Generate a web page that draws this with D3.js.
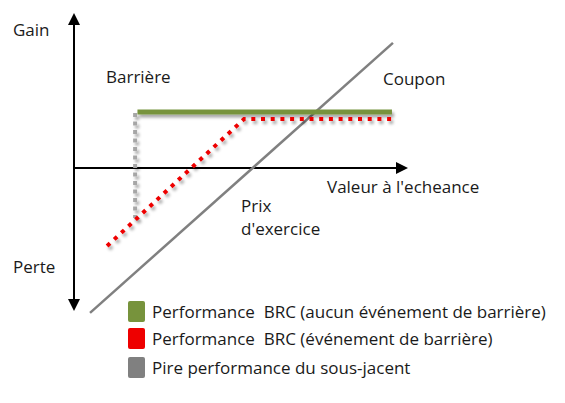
<!DOCTYPE html>
<html><head><meta charset="utf-8">
<script src="https://cdn.jsdelivr.net/npm/d3@7"></script>
<style>body{margin:0;background:#fff}svg{display:block}text{font-family:"Open Sans",sans-serif;fill:#1a1a1a}</style>
</head><body>
<script>
// Conceptual units: x = underlying value at maturity, y = gain/loss
const axisX = [0, 100];           // horizontal axis extent
const axisY = [-47.7, 51.7];      // vertical axis extent
const noEventX = [19, 95.2];  const noEventY = [18.7, 18.7];
const eventX = [9.9, 50.9, 95.2]; const eventY = [-26, 16.3, 16.3];
const barrierX = [18.3, 18.3];    const barrierY = [18.3, -16.7];
const underX = [4.8, 95.5];       const underY = [-48.3, 41.7];
const legendLabels = ["Performance  BRC (aucun événement de barrière)", "Performance  BRC (événement de barrière)", "Pire performance du sous-jacent"];
const legendColors = ["#77933C", "#EE0000", "#808080"];

const W = 565, H = 403;
const x = d3.scaleLinear().domain([0, 100]).range([74, 408]);
const y = d3.scaleLinear().domain([-50, 50]).range([318, 18]);

const svg = d3.select("body").append("svg").attr("width", W).attr("height", H);
const defs = svg.append("defs");
const f = defs.append("filter").attr("id", "sh").attr("filterUnits", "userSpaceOnUse")
  .attr("x", 0).attr("y", 0).attr("width", W).attr("height", H);
f.append("feDropShadow").attr("dx", 2).attr("dy", 3).attr("stdDeviation", 1.8).attr("flood-color", "#000").attr("flood-opacity", 0.35);

const line = d3.line().x(d => x(d[0])).y(d => y(d[1]));
const zip = (a, b) => a.map((v, i) => [v, b[i]]);

// axes
svg.append("line").attr("x1", x(axisX[0])).attr("x2", x(axisX[1]) - 10).attr("y1", y(0)).attr("y2", y(0)).attr("stroke", "#000").attr("stroke-width", 2);
svg.append("path").attr("d", `M${x(axisX[1])},${y(0)} L${x(axisX[1]) - 12},${y(0) - 6} L${x(axisX[1]) - 12},${y(0) + 6}Z`).attr("fill", "#000");
svg.append("line").attr("x1", x(0)).attr("x2", x(0)).attr("y1", y(axisY[0]) - 10).attr("y2", y(axisY[1]) + 10).attr("stroke", "#000").attr("stroke-width", 2);
svg.append("path").attr("d", `M${x(0)},${y(axisY[1])} L${x(0) - 6},${y(axisY[1]) + 12} L${x(0) + 6},${y(axisY[1]) + 12}Z`).attr("fill", "#000");
svg.append("path").attr("d", `M${x(0)},${y(axisY[0])} L${x(0) - 6},${y(axisY[0]) - 12} L${x(0) + 6},${y(axisY[0]) - 12}Z`).attr("fill", "#000");

// underlying
svg.append("path").attr("d", line(zip(underX, underY))).attr("fill", "none").attr("stroke", "#808080").attr("stroke-width", 2.5);
// barrier vertical
svg.append("path").attr("d", line(zip(barrierX, barrierY))).attr("fill", "none").attr("stroke", "#A6A6A6").attr("stroke-width", 4).attr("stroke-dasharray", "4,4.5").attr("filter", "url(#sh)");
// green
svg.append("path").attr("d", line(zip(noEventX, noEventY))).attr("fill", "none").attr("stroke", "#77933C").attr("stroke-width", 5).attr("filter", "url(#sh)");
// red
svg.append("path").attr("d", line(zip(eventX, eventY))).attr("fill", "none").attr("stroke", "#EE0000").attr("stroke-width", 4).attr("stroke-dasharray", "4,5.7").attr("filter", "url(#sh)");

// labels
const fs = 17;
const lab = (t, px, py) => svg.append("text").attr("x", px).attr("y", py).attr("font-size", fs).text(t);
lab("Gain", 13, 36);
lab("Perte", 13, 273);
lab("Barrière", 106, 83);
lab("Coupon", 383, 85);
lab("Valeur à l'echeance", 327, 193);
lab("Prix", 241, 212);
lab("d'exercice", 241, 235);

// legend
const lg = svg.append("g");
const rowY = [301, 328, 357];
legendLabels.forEach((t, i) => {
  lg.append("rect").attr("x", 128).attr("y", rowY[i]).attr("width", 17).attr("height", 21).attr("rx", 2).attr("fill", legendColors[i]);
  lg.append("text").attr("x", 152).attr("y", rowY[i] + 17).attr("font-size", fs).style("white-space", "pre").text(t);
});
</script>
</body></html>
